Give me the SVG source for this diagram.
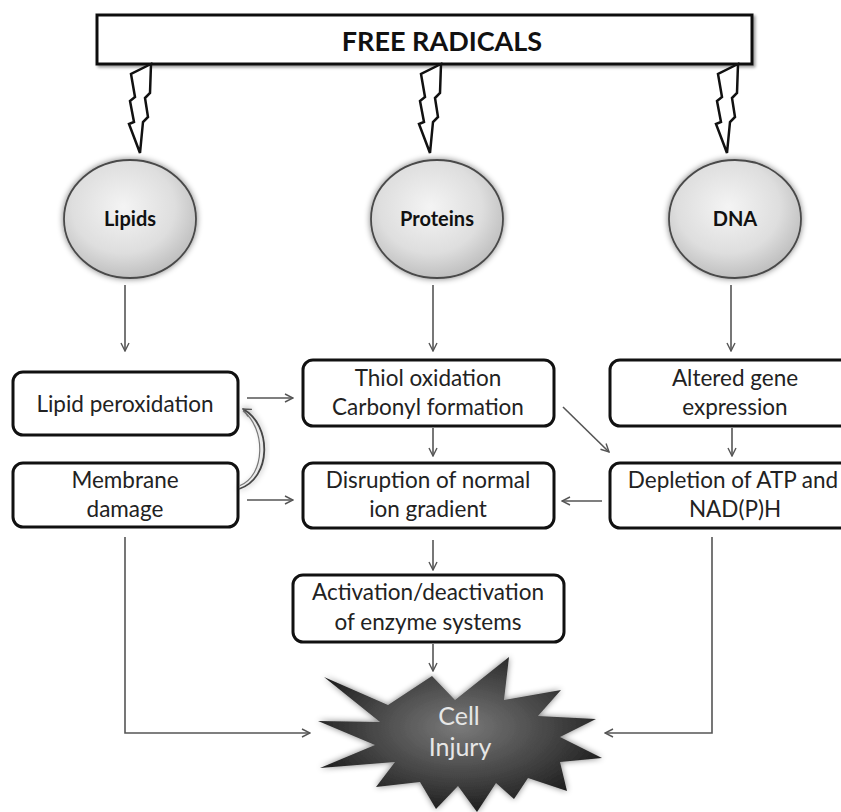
<svg xmlns="http://www.w3.org/2000/svg" width="841" height="812" viewBox="0 0 841 812">
<style>
.box{fill:#fff;stroke:#111;stroke-width:3}
.t{font-family:Lato,"Liberation Sans",sans-serif;font-size:22.5px;fill:#222;text-anchor:middle}
.lbl{font-family:Lato,"Liberation Sans",sans-serif;font-size:20px;font-weight:bold;fill:#111;text-anchor:middle}
.con{fill:none;stroke:#555;stroke-width:1.6}
.ell{fill:url(#eg);stroke:#4a4a4a;stroke-width:1.8}
.bolt{fill:#fff;stroke:#111;stroke-width:2.5;stroke-linejoin:miter}
</style>
<defs>
<radialGradient id="eg" cx="0.45" cy="0.4" r="0.65">
<stop offset="0" stop-color="#f4f4f4"/>
<stop offset="0.6" stop-color="#dedede"/>
<stop offset="1" stop-color="#b8b8b8"/>
</radialGradient>
<radialGradient id="sg" cx="0.5" cy="0.45" r="0.55">
<stop offset="0" stop-color="#7a7a7a"/>
<stop offset="0.6" stop-color="#444"/>
<stop offset="1" stop-color="#1e1e1e"/>
</radialGradient>
<filter id="sh" x="-10%" y="-10%" width="120%" height="130%">
<feGaussianBlur in="SourceAlpha" stdDeviation="1.5"/>
<feOffset dx="1.5" dy="2" result="o"/>
<feComponentTransfer><feFuncA type="linear" slope="0.4"/></feComponentTransfer>
<feMerge><feMergeNode/><feMergeNode in="SourceGraphic"/></feMerge>
</filter>
<filter id="glow" x="-20%" y="-20%" width="140%" height="140%">
<feGaussianBlur in="SourceAlpha" stdDeviation="3"/>
<feComponentTransfer><feFuncA type="linear" slope="0.5"/></feComponentTransfer>
<feMerge><feMergeNode/><feMergeNode in="SourceGraphic"/></feMerge>
</filter>
<marker id="ar" viewBox="0 0 10 10" refX="9" refY="5" markerWidth="10" markerHeight="10" markerUnits="userSpaceOnUse" orient="auto">
<path d="M1,1 L9,5 L1,9" fill="none" stroke="#555" stroke-width="1.4"/>
</marker>
<polygon id="bolt" class="bolt" points="0,0 -20,10 -16,33 -21,37 -17,58 -22,60 -11,89 -8,58 -3,53 -6,34 -1,29"/>
</defs>

<g id="free-radicals">
<rect x="97" y="15" width="655" height="49" class="box" filter="url(#sh)"/>
<text x="442" y="51" font-family="Lato,'Liberation Sans',sans-serif" font-size="27" font-weight="bold" fill="#111" text-anchor="middle">FREE RADICALS</text>
</g>

<g id="bolts">
<use href="#bolt" x="151" y="64"/>
<use href="#bolt" x="441" y="64"/>
<use href="#bolt" x="738" y="64"/>
</g>

<g id="lipids">
<ellipse cx="130" cy="219" rx="66" ry="59" class="ell" filter="url(#glow)"/>
<text x="130" y="226" class="lbl">Lipids</text>
</g>
<g id="proteins">
<ellipse cx="437" cy="219" rx="66" ry="59" class="ell" filter="url(#glow)"/>
<text x="437" y="226" class="lbl">Proteins</text>
</g>
<g id="dna">
<ellipse cx="735" cy="219" rx="66" ry="59" class="ell" filter="url(#glow)"/>
<text x="735" y="226" class="lbl">DNA</text>
</g>

<g id="lipid-peroxidation">
<rect x="13" y="372" width="225" height="63" rx="10" class="box"/>
<text x="125" y="412" class="t">Lipid peroxidation</text>
</g>
<g id="thiol-oxidation">
<rect x="303" y="360" width="251" height="66" rx="10" class="box"/>
<text x="428" y="386" class="t">Thiol oxidation</text>
<text x="428" y="415" class="t">Carbonyl formation</text>
</g>
<g id="altered-gene">
<rect x="610" y="360" width="245" height="66" rx="10" class="box"/>
<text x="735" y="386" class="t">Altered gene</text>
<text x="735" y="415" class="t">expression</text>
</g>
<g id="membrane-damage">
<rect x="13" y="463" width="225" height="64" rx="10" class="box"/>
<text x="125" y="488" class="t">Membrane</text>
<text x="125" y="517" class="t">damage</text>
</g>
<g id="disruption">
<rect x="303" y="463" width="251" height="65" rx="10" class="box"/>
<text x="428" y="488" class="t">Disruption of normal</text>
<text x="428" y="517" class="t">ion gradient</text>
</g>
<g id="depletion">
<rect x="610" y="463" width="245" height="65" rx="10" class="box"/>
<text x="733" y="488" class="t">Depletion of ATP and</text>
<text x="735" y="517" class="t">NAD(P)H</text>
</g>
<g id="activation">
<rect x="293" y="575" width="271" height="67" rx="10" class="box"/>
<text x="428" y="600" class="t">Activation/deactivation</text>
<text x="428" y="630" class="t">of enzyme systems</text>
</g>

<g id="cell-injury">
<polygon points="324,677 388,705 432,676 455,700 509,657 504,700 561,690 538,716 596,719 560,737 602,758 560,762 567,791 528,778 514,799 496,783 477,812 458,786 436,809 420,782 376,787 395,762 320,768 375,745 318,721 380,722" fill="url(#sg)" filter="url(#glow)"/>
<text x="459" y="725" font-family="Lato,'Liberation Sans',sans-serif" font-size="25" fill="#e6e6e6" text-anchor="middle">Cell</text>
<text x="460" y="756" font-family="Lato,'Liberation Sans',sans-serif" font-size="25" fill="#e6e6e6" text-anchor="middle">Injury</text>
</g>

<g id="connectors">
<line x1="125" y1="285" x2="125" y2="351" class="con" marker-end="url(#ar)"/>
<line x1="433" y1="285" x2="433" y2="351" class="con" marker-end="url(#ar)"/>
<line x1="731" y1="285" x2="731" y2="351" class="con" marker-end="url(#ar)"/>
<line x1="247" y1="398" x2="293" y2="398" class="con" marker-end="url(#ar)"/>
<line x1="247" y1="500" x2="293" y2="500" class="con" marker-end="url(#ar)"/>
<line x1="602" y1="501" x2="562" y2="501" class="con" marker-end="url(#ar)"/>
<line x1="433" y1="428" x2="433" y2="456" class="con" marker-end="url(#ar)"/>
<line x1="732" y1="428" x2="732" y2="456" class="con" marker-end="url(#ar)"/>
<line x1="563" y1="407" x2="609" y2="452" class="con" marker-end="url(#ar)"/>
<line x1="433" y1="540" x2="433" y2="570" class="con" marker-end="url(#ar)"/>
<line x1="433" y1="644" x2="433" y2="671" class="con" marker-end="url(#ar)"/>
<polyline points="125,537 125,733 310,733" class="con" marker-end="url(#ar)"/>
<polyline points="712,537 712,733 605,733" class="con" marker-end="url(#ar)"/>
<path d="M239,489 C272,478 272,425 243,409" fill="none" stroke="#444" stroke-width="1.8" marker-end="url(#ar)" filter="url(#glow)"/>
<path d="M239,486 C266,476 266,428 243,411" fill="none" stroke="#777" stroke-width="1.2"/>
</g>
</svg>
